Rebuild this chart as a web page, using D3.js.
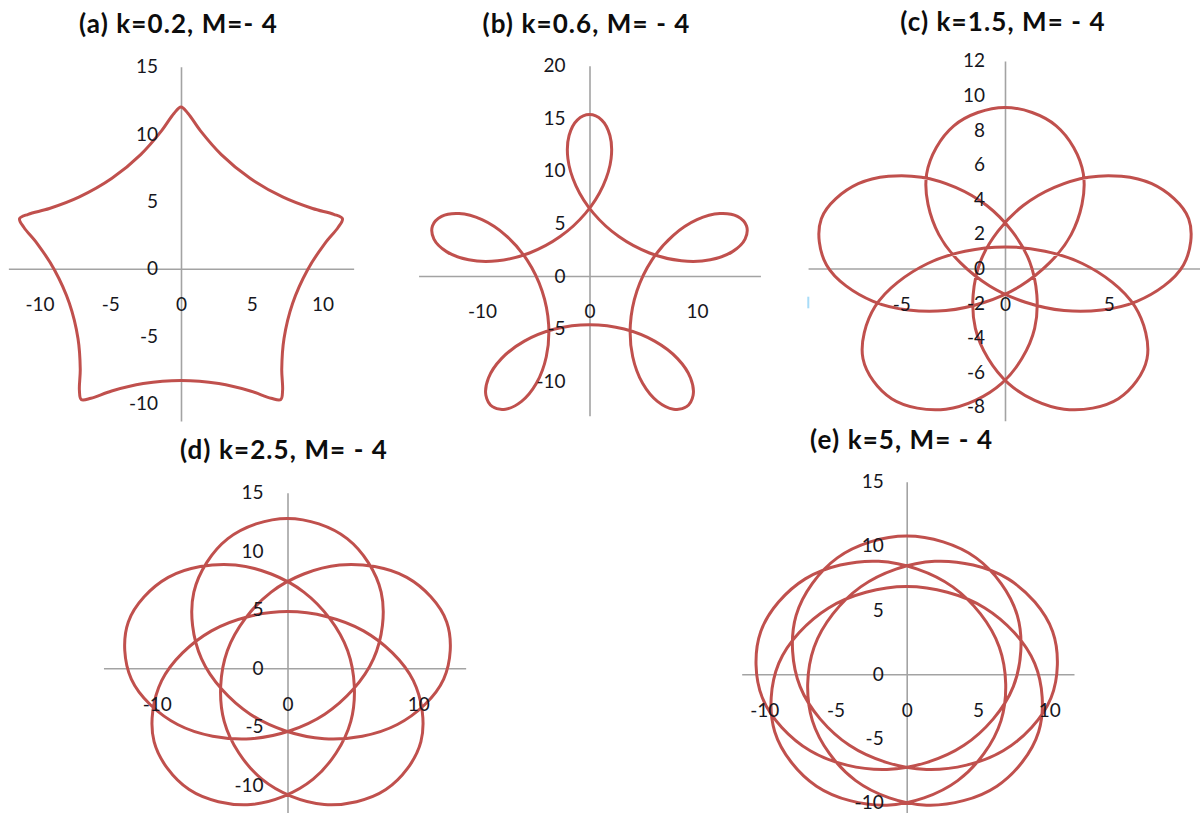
<!DOCTYPE html>
<html>
<head>
<meta charset="utf-8">
<script src="https://cdn.jsdelivr.net/npm/d3@7"></script>
<style>
  html, body { margin: 0; padding: 0; background: #fff; }
  svg { display: block; }
  .title { font-family: Lato, "Open Sans", sans-serif; font-weight: 700; font-size: 26px; letter-spacing: 1.1px; fill: #0d0d0d; }
  .lbl text { font-family: Lato, "Open Sans", sans-serif; font-size: 19px; fill: #161620; }
</style>
</head>
<body>
<svg id="chart" width="1200" height="813"></svg>
<script>
// Panel titles
const titles = [
  "(a) k=0.2, M=- 4",
  "(b) k=0.6, M= - 4",
  "(c) k=1.5, M= - 4",
  "(d) k=2.5, M= - 4",
  "(e) k=5, M= - 4"
];

// Tick labels of each panel
const xTicksA = [-10, -5, 0, 5, 10];
const yTicksA = [-10, -5, 0, 5, 10, 15];
const xTicksB = [-10, 0, 10];
const yTicksB = [-10, -5, 0, 5, 10, 15, 20];
const xTicksC = [-5, 0, 5];
const yTicksC = [-8, -6, -4, -2, 0, 2, 4, 6, 8, 10, 12];
const xTicksD = [-10, 0, 10];
const yTicksD = [-10, -5, 0, 5, 10, 15];
const xTicksE = [-10, -5, 0, 5, 10];
const yTicksE = [-10, -5, 0, 5, 10, 15];

// Points along each closed curve, [x, y], in order of travel
const curveA = [[0,12.00],[-0.50,11.52],[-1.38,10.23],[-2.85,8.47],[-4.88,6.71],[-7.18,5.33],[-9.30,4.47],[-10.80,4.04],[-11.41,3.71],[-11.11,3.08],[-10.15,1.85],[-8.94,-0.09],[-7.89,-2.56],[-7.28,-5.18],[-7.12,-7.46],[-7.18,-9.03],[-7.05,-9.71],[-6.37,-9.62],[-4.90,-9.08],[-2.67,-8.53],[0,-8.30],[2.67,-8.53],[4.90,-9.08],[6.37,-9.62],[7.05,-9.71],[7.18,-9.03],[7.12,-7.46],[7.28,-5.18],[7.89,-2.56],[8.94,-0.09],[10.15,1.85],[11.11,3.08],[11.41,3.71],[10.80,4.04],[9.30,4.47],[7.18,5.33],[4.88,6.71],[2.85,8.47],[1.38,10.23],[0.50,11.52]];

const curveB = [[0,15.36],[1.14,14.84],[1.90,13.37],[2.01,11.17],[1.26,8.58],[-0.36,5.98],[-2.73,3.75],[-5.58,2.19],[-8.55,1.45],[-11.24,1.54],[-13.30,2.32],[-14.47,3.51],[-14.61,4.75],[-13.76,5.67],[-12.13,5.94],[-10.00,5.36],[-7.77,3.85],[-5.80,1.51],[-4.41,-1.43],[-3.80,-4.63],[-4.02,-7.68],[-4.94,-10.21],[-6.32,-11.93],[-7.81,-12.67],[-9.03,-12.43],[-9.64,-11.34],[-9.40,-9.70],[-8.19,-7.86],[-6.06,-6.20],[-3.23,-5.05],[0,-4.64],[3.23,-5.05],[6.06,-6.20],[8.19,-7.86],[9.40,-9.70],[9.64,-11.34],[9.03,-12.43],[7.81,-12.67],[6.32,-11.93],[4.94,-10.21],[4.02,-7.68],[3.80,-4.63],[4.41,-1.43],[5.80,1.51],[7.77,3.85],[10.00,5.36],[12.13,5.94],[13.76,5.67],[14.61,4.75],[14.47,3.51],[13.30,2.32],[11.24,1.54],[8.55,1.45],[5.58,2.19],[2.73,3.75],[0.36,5.98],[-1.26,8.58],[-2.01,11.17],[-1.90,13.37],[-1.14,14.84]];

const curveC = [[0,9.31],[2.47,8.25],[3.78,5.47],[3.19,1.96],[0.74,-1.01],[-2.85,-2.43],[-6.36,-1.90],[-8.61,0.20],[-8.86,2.88],[-7.08,4.90],[-4.03,5.28],[-0.88,3.64],[1.19,0.39],[1.43,-3.46],[-0.16,-6.64],[-2.85,-8.13],[-5.47,-7.53],[-6.85,-5.22],[-6.27,-2.20],[-3.73,0.29],[0,1.25],[3.73,0.29],[6.27,-2.20],[6.85,-5.22],[5.47,-7.53],[2.85,-8.13],[0.16,-6.64],[-1.43,-3.46],[-1.19,0.39],[0.88,3.64],[4.03,5.28],[7.08,4.90],[8.86,2.88],[8.61,0.20],[6.36,-1.90],[2.85,-2.43],[-0.74,-1.01],[-3.19,1.96],[-3.78,5.47],[-2.47,8.25]];

const curveD = [[0,12.80],[4.56,11.07],[7.16,6.51],[6.58,0.82],[2.85,-3.92],[-2.81,-6.01],[-8.40,-4.80],[-11.94,-0.92],[-12.17,3.96],[-9.12,7.76],[-3.98,8.82],[1.25,6.51],[4.60,1.50],[4.84,-4.53],[1.96,-9.47],[-2.81,-11.63],[-7.52,-10.36],[-10.20,-6.27],[-9.62,-1.06],[-5.81,3.20],[0,4.84],[5.81,3.20],[9.62,-1.06],[10.20,-6.27],[7.52,-10.36],[2.81,-11.63],[-1.96,-9.47],[-4.84,-4.53],[-4.60,1.50],[-1.25,6.51],[3.98,8.82],[9.12,7.76],[12.17,3.96],[11.94,-0.92],[8.40,-4.80],[2.81,-6.01],[-2.85,-3.92],[-6.58,0.82],[-7.16,6.51],[-4.56,11.07]];

const curveE = [[0,10.77],[4.87,9.07],[7.76,4.59],[7.48,-0.96],[4.02,-5.53],[-1.39,-7.41],[-6.77,-5.96],[-10.13,-1.83],[-10.24,3.33],[-7.12,7.43],[-1.97,8.80],[3.23,6.81],[6.50,2.11],[6.62,-3.61],[3.58,-8.28],[-1.39,-10.19],[-6.33,-8.71],[-9.26,-4.47],[-8.98,0.85],[-5.48,5.17],[0,6.83],[5.48,5.17],[8.98,0.85],[9.26,-4.47],[6.33,-8.71],[1.39,-10.19],[-3.58,-8.28],[-6.62,-3.61],[-6.50,2.11],[-3.23,6.81],[1.97,8.80],[7.12,7.43],[10.24,3.33],[10.13,-1.83],[6.77,-5.96],[1.39,-7.41],[-4.02,-5.53],[-7.48,-0.96],[-7.76,4.59],[-4.87,9.07]];

// Placement of each panel on the page: origin in pixels, pixels per unit,
// extent of the axis lines, y-label gap and title anchor
const panels = [
  { curve: curveA, xt: xTicksA, yt: yTicksA, x0: 181,   sx: 14.15, y0: 268.7, sy: 13.47, xr: [-12.2, 12.2],  yr: [-11.3, 15], gap: 23, tx: 178.5, ty: 33 },
  { curve: curveB, xt: xTicksB, yt: yTicksB, x0: 589.5, sx: 10.75, y0: 276,   sy: 10.51, xr: [-15.9, 15.9],  yr: [-13.3, 20], gap: 24, tx: 586.5, ty: 33 },
  { curve: curveC, xt: xTicksC, yt: yTicksC, x0: 1005,  sx: 20.73, y0: 268.5, sy: 17.3,  xr: [-9.5, 9.6],    yr: [-8.8, 12],  gap: 20, tx: 1003,  ty: 31 },
  { curve: curveD, xt: xTicksD, yt: yTicksD, x0: 287.5, sx: 13.08, y0: 668.3, sy: 11.71, xr: [-14.07, 13.62], yr: [-12.5, 15], gap: 24, tx: 284,   ty: 459 },
  { curve: curveE, xt: xTicksE, yt: yTicksE, x0: 906.7, sx: 14.25, y0: 674.3, sy: 12.84, xr: [-11.58, 11.74], yr: [-10.9, 15], gap: 23, tx: 901.7, ty: 449 }
];

const svg = d3.select("#chart");
const lineColor = "#C0504D";
const axisColor = "#a3a3a3";
const fmt = d => String(d);

panels.forEach((p, i) => {
  const x = d3.scaleLinear().domain(p.xr).range([p.x0 + p.sx * p.xr[0], p.x0 + p.sx * p.xr[1]]);
  const y = d3.scaleLinear().domain(p.yr).range([p.y0 - p.sy * p.yr[0], p.y0 - p.sy * p.yr[1]]);
  const g = svg.append("g");

  const xAxis = d3.axisBottom(x).tickValues(p.xt).tickSize(0).tickPadding(29).tickFormat(fmt);
  const yAxis = d3.axisLeft(y).tickValues(p.yt).tickSize(0).tickPadding(p.gap).tickFormat(fmt);

  // axis lines underneath the curve
  const lines = g.append("g");
  lines.append("g").attr("transform", `translate(0,${y(0)})`).call(xAxis);
  lines.append("g").attr("transform", `translate(${x(0)},0)`).call(yAxis);
  lines.selectAll(".tick").remove();
  lines.selectAll(".domain").attr("stroke", axisColor).attr("stroke-width", 1.6);

  // the curve
  const line = d3.line()
    .x(d => x(d[0]))
    .y(d => y(d[1]))
    .curve(d3.curveCatmullRomClosed.alpha(0.5));
  g.append("path")
    .datum(p.curve)
    .attr("d", line)
    .attr("fill", "none")
    .attr("stroke", lineColor)
    .attr("stroke-width", 3)
    .attr("stroke-linejoin", "round");

  // tick labels on top
  const labels = g.append("g").attr("class", "lbl");
  labels.append("g").attr("transform", `translate(0,${y(0)})`).call(xAxis);
  labels.append("g").attr("transform", `translate(${x(0)},0)`).call(yAxis);
  labels.selectAll(".domain").remove();
  labels.selectAll("g").attr("font-family", null).attr("font-size", null);

  g.append("text")
    .attr("class", "title")
    .attr("x", p.tx)
    .attr("y", p.ty)
    .attr("text-anchor", "middle")
    .text(titles[i]);
});

// small light-blue mark at the left edge of panel (c)
svg.append("rect")
  .attr("x", 807.3).attr("y", 296.7)
  .attr("width", 2).attr("height", 11.6)
  .attr("fill", "#a8dcf8");
</script>
</body>
</html>
